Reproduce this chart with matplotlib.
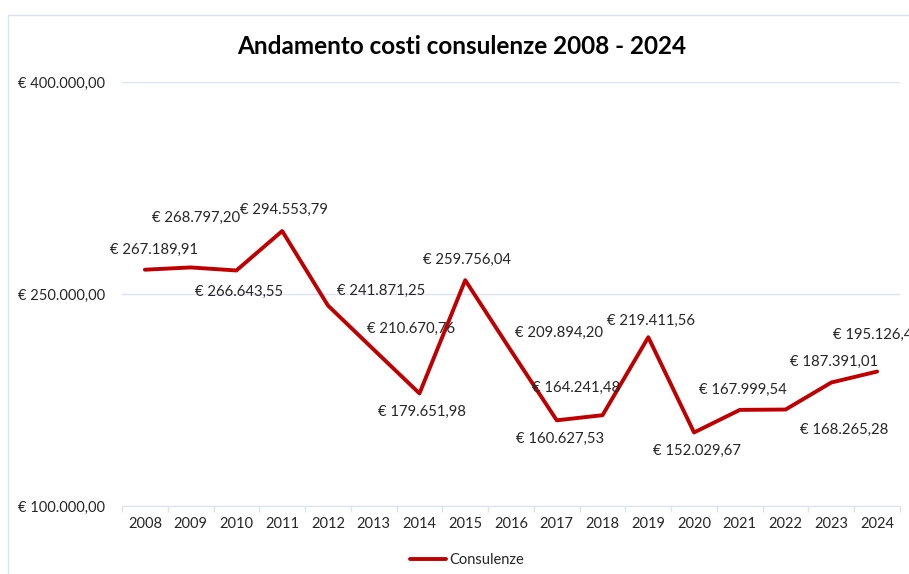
import matplotlib
matplotlib.use("Agg")
import matplotlib.pyplot as plt
from matplotlib.patches import Rectangle
import numpy as np

# data
anni = [2008, 2009, 2010, 2011, 2012, 2013, 2014, 2015, 2016,
        2017, 2018, 2019, 2020, 2021, 2022, 2023, 2024]
costi = [267189.91, 268797.20, 266643.55, 294553.79, 241871.25, 210670.76,
         179651.98, 259756.04, 209894.20, 160627.53, 164241.48, 219411.56,
         152029.67, 167999.54, 168265.28, 187391.01, 195126.40]
y_ticks = [100000, 250000, 400000]

# label offsets (pixels, from each point)
offsets = [(9, 20), (5, 50), (3, -21), (2, 21), (53, 15), (37, 21), (3, -18),
           (2, 20), (48, 18), (3, -19), (-26, 27), (3, 16), (3, -18),
           (3, 20), (59, -20), (3, 21), (0, 37)]


def euro(v):
    s = f"{v:,.2f}".replace(",", "X").replace(".", ",").replace("X", ".")
    return "€ " + s


plt.rcParams["font.family"] = ["Lato", "DejaVu Sans"]
W, H = 909, 574
fig = plt.figure(figsize=(W / 100, H / 100), dpi=100)
ax = fig.add_axes([122 / W, 1 - 506 / H, (900 - 122) / W, (506 - 82) / H])

grid_col = "#d9e3f1"
red = "#c00000"
txt = "#262626"

x = np.arange(len(anni))
ax.plot(x, costi, color=red, linewidth=2.8, solid_joinstyle="round",
        solid_capstyle="round", label="Consulenze", zorder=3)

for xi, v, (dx, dy) in zip(x, costi, offsets):
    ax.annotate(euro(v), (xi, v), xytext=(dx * 0.72, dy * 0.72),
                textcoords="offset points", ha="center", va="center",
                fontsize=10.7, color=txt, annotation_clip=False)

ax.set_xlim(-0.5, len(anni) - 0.5)
ax.set_ylim(100000, 400000)
ax.set_yticks(y_ticks)
ax.set_yticklabels([euro(v) for v in y_ticks], fontsize=10.5, color=txt)
ax.set_xticks(x)
ax.set_xticklabels([str(a) for a in anni], fontsize=10.5, color=txt)
ax.set_xticks(np.arange(-0.5, len(anni), 1), minor=True)
ax.tick_params(axis="x", which="major", length=0, pad=8)
ax.tick_params(axis="x", which="minor", length=4, color=grid_col, width=1)
ax.tick_params(axis="y", length=0, pad=12)
ax.grid(axis="y", color=grid_col, linewidth=1)
for s in ["top", "right", "left"]:
    ax.spines[s].set_visible(False)
ax.spines["bottom"].set_color(grid_col)
ax.set_axisbelow(True)

fig.text(462 / W, 1 - 47 / H, "Andamento costi consulenze 2008 - 2024",
         ha="center", va="center", fontsize=17.5, fontweight="bold", color="black")

fig.legend(loc="center", bbox_to_anchor=(467 / W, 1 - 560 / H), frameon=False,
           fontsize=10.5, handlelength=2.5, handletextpad=0.2,
           labelcolor=txt)

fig.patches.append(Rectangle((8 / W, -0.1), 1.2, 1 - 15 / H + 0.1,
                             transform=fig.transFigure, fill=False,
                             edgecolor=grid_col, linewidth=1))

fig.savefig("out.png", dpi=100)
